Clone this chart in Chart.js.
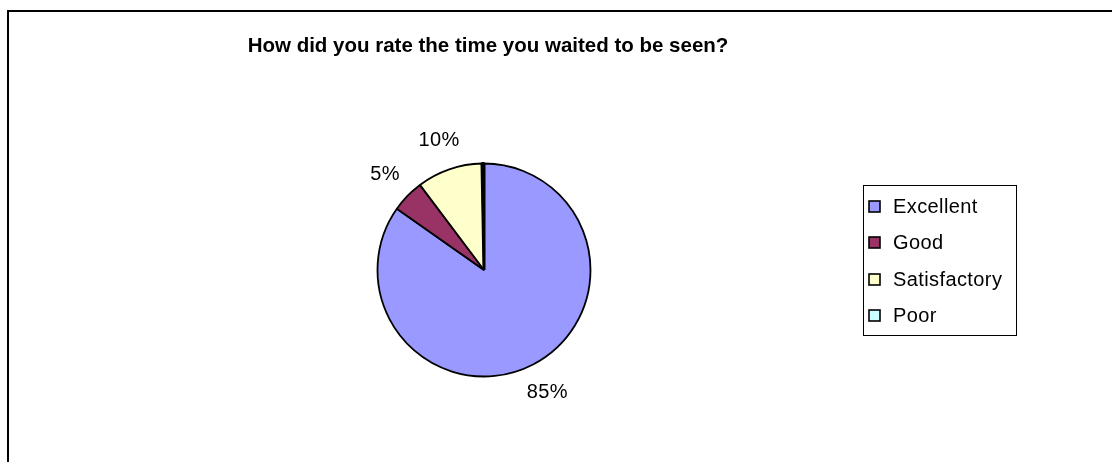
<!DOCTYPE html>
<html><head><meta charset="utf-8">
<script src="https://cdn.jsdelivr.net/npm/chart.js@4/dist/chart.umd.min.js"></script>
<style>html,body{margin:0;padding:0;background:#fff;overflow:hidden}#wrap{position:relative;width:1112px;height:462px}</style>
</head><body><div id="wrap"><canvas id="c" width="1112" height="462"></canvas></div>
<script>
const chartTitle = 'How did you rate the time you waited to be seen?';
const categories = ['Excellent', 'Good', 'Satisfactory', 'Poor'];
const values = [85, 5, 10, 0.3];
const colors = ['#9999FF', '#993366', '#FFFFCC', '#CCFFFF'];

const FONT = '"Liberation Sans", Arial, sans-serif';

const decor = {
  id: 'decor',
  afterDraw(chart) {
    const ctx = chart.ctx;
    ctx.save();
    // outer frame
    ctx.strokeStyle = '#000';
    ctx.lineWidth = 2;
    ctx.strokeRect(8, 11, 1300, 1000);
    // title
    ctx.fillStyle = '#000';
    ctx.font = 'bold 20.5px ' + FONT;
    ctx.textAlign = 'center';
    ctx.textBaseline = 'middle';
    ctx.fillText(chartTitle, 488, 46);
    // percentage labels
    const meta = chart.getDatasetMeta(0);
    const total = values.reduce((a, b) => a + b, 0);
    ctx.font = '20px ' + FONT;
    try { ctx.letterSpacing = '0.4px'; } catch (e) {}
    meta.data.forEach((arc, i) => {
      const pct = Math.round(values[i] / total * 100);
      if (pct < 1) return;
      const p = arc.getProps(['x', 'y', 'startAngle', 'endAngle', 'outerRadius'], true);
      const mid = (p.startAngle + p.endAngle) / 2;
      const d = p.outerRadius + 31;
      ctx.fillText(pct + '%', p.x + Math.cos(mid) * d, p.y + Math.sin(mid) * d);
    });
    // legend
    ctx.lineWidth = 1;
    ctx.strokeRect(863.5, 185.5, 153, 150);
    ctx.textAlign = 'left';
    categories.forEach((c, i) => {
      const y = Math.round(206 + i * 36.4);
      ctx.fillStyle = colors[i];
      ctx.fillRect(869, y - 5, 11, 11);
      ctx.strokeStyle = '#000';
      ctx.lineWidth = 1.6;
      ctx.strokeRect(869, y - 5, 11, 11);
      ctx.fillStyle = '#000';
      ctx.fillText(c, 893, y + 1);
    });
    ctx.restore();
  }
};

new Chart(document.getElementById('c'), {
  type: 'pie',
  data: {
    labels: categories,
    datasets: [{
      data: values,
      backgroundColor: colors,
      borderColor: '#000',
      borderWidth: [1.8, 1.8, 1.8, 3]
    }]
  },
  options: {
    responsive: false,
    devicePixelRatio: 1,
    animation: false,
    events: [],
    layout: { padding: { left: 376, top: 162, right: 520, bottom: 84 } },
    plugins: { legend: { display: false }, title: { display: false }, tooltip: { enabled: false } }
  },
  plugins: [decor]
});
</script>
</body></html>
